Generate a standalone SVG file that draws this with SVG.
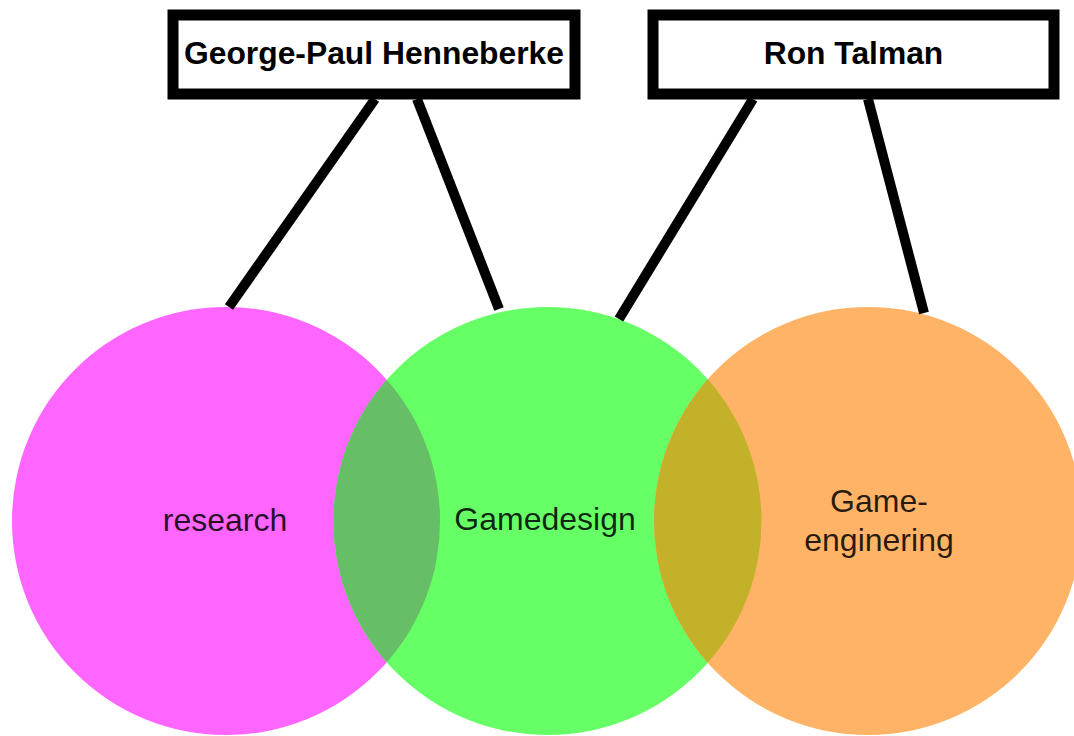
<svg xmlns="http://www.w3.org/2000/svg" width="1074" height="736" viewBox="0 0 1074 736">
<style>
.box{fill:#fff;stroke:#000;stroke-width:11}
.bt{font-family:"Liberation Sans",Arial,sans-serif;font-weight:bold;font-size:31.8px;fill:#000;text-anchor:middle}
.ct{font-family:"Liberation Sans",Arial,sans-serif;font-size:32px;fill:#000;fill-opacity:0.85;text-anchor:middle}
.conn{stroke:#000;stroke-width:10;fill:none;stroke-linecap:butt}
</style>
<rect width="1074" height="736" fill="#fff"/>
<g id="research">
<circle cx="226" cy="521" r="214" fill="#FF66FF"/>
</g>
<g id="gamedesign">
<circle cx="547.5" cy="521" r="214" fill="#66FF66"/>
</g>
<g id="gameengineering">
<circle cx="868" cy="521" r="214" fill="#FFB366"/>
</g>
<g id="overlaps">
<path d="M386.75 379.7 A214 214 0 0 1 386.75 662.3 A214 214 0 0 1 386.75 379.7 Z" fill="#66BF66"/>
<path d="M707.75 379.2 A214 214 0 0 1 707.75 662.8 A214 214 0 0 1 707.75 379.2 Z" fill="#C2B129"/>
</g>
<g id="labels">
<text class="ct" x="225" y="531">research</text>
<text class="ct" x="545" y="530">Gamedesign</text>
<text class="ct" x="879" y="512">Game-</text>
<text class="ct" x="879" y="551">enginering</text>
</g>
<g id="connectors">
<line class="conn" x1="375" y1="99" x2="229" y2="307"/>
<line class="conn" x1="417" y1="99" x2="499" y2="309"/>
<line class="conn" x1="753" y1="99" x2="619" y2="319"/>
<line class="conn" x1="868" y1="99" x2="924" y2="313"/>
</g>
<g id="george">
<rect class="box" x="173" y="15" width="402" height="79"/>
<text class="bt" x="374" y="64">George-Paul Henneberke</text>
</g>
<g id="ron">
<rect class="box" x="653" y="15" width="401" height="79"/>
<text class="bt" x="853.5" y="64">Ron Talman</text>
</g>
</svg>
